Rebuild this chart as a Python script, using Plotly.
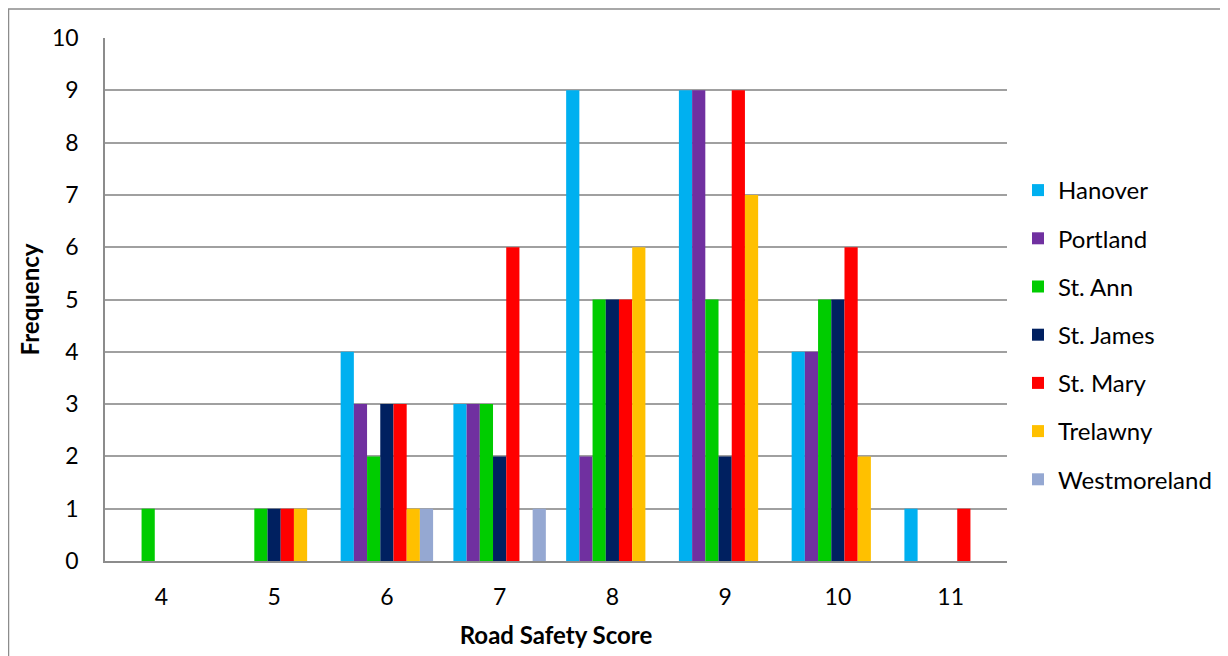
import plotly.graph_objects as go

categories = ["4", "5", "6", "7", "8", "9", "10", "11"]
hanover = [0, 0, 4, 3, 9, 9, 4, 1]
portland = [0, 0, 3, 3, 2, 9, 4, 0]
st_ann = [1, 1, 2, 3, 5, 5, 5, 0]
st_james = [0, 1, 3, 2, 5, 2, 5, 0]
st_mary = [0, 1, 3, 6, 5, 9, 6, 1]
trelawny = [0, 1, 1, 0, 6, 7, 2, 0]
westmoreland = [0, 0, 1, 1, 0, 0, 0, 0]

series = [
    ("Hanover", hanover, "#00B0F0"),
    ("Portland", portland, "#7030A0"),
    ("St. Ann", st_ann, "#00CC00"),
    ("St. James", st_james, "#002060"),
    ("St. Mary", st_mary, "#FF0000"),
    ("Trelawny", trelawny, "#FFC000"),
    ("Westmoreland", westmoreland, "#95A8D2"),
]

FONT = "Lato, Calibri, Carlito, sans-serif"

fig = go.Figure()
for name, vals, color in series:
    fig.add_trace(go.Bar(
        x=categories, y=vals, name=name, legendgroup=name,
        marker=dict(color=color, line=dict(width=0)),
    ))

# page is offset by the 8px body margin
OFF = 8
W, H = 1228 - OFF, 656 - OFF
L, R, T, B = 105 - OFF, 1007 - OFF, 38 - OFF, 561 - OFF
pw, ph = R - L, B - T

fig.update_layout(
    width=W, height=H,
    margin=dict(l=L, r=W - R, t=T, b=H - B, autoexpand=False),
    paper_bgcolor="white", plot_bgcolor="white",
    barmode="group", bargap=0.18, bargroupgap=0,
    font=dict(family=FONT, size=22, color="black"),
    legend=dict(
        x=(1010 - L) / pw, xanchor="left",
        y=1 - (327 - T) / ph, yanchor="middle",
        font=dict(size=24, family=FONT, color="black"),
        traceorder="grouped", tracegroupgap=14,
        itemwidth=30,
    ),
    xaxis=dict(
        type="category", showgrid=False, showline=True, linecolor="#8C8C8C", linewidth=1.5,
        ticks="", ticklabelstandoff=15,
        tickfont=dict(size=23, family=FONT),
        title=dict(text="<b>Road Safety Score</b>", font=dict(size=24, family=FONT), standoff=18),
    ),
    yaxis=dict(
        range=[0, 10], dtick=1, showgrid=True, gridcolor="#A0A0A0", gridwidth=1.5,
        showline=True, linecolor="#8C8C8C", linewidth=1.5, zeroline=False,
        ticks="", ticklabelstandoff=20,
        tickfont=dict(size=23, family=FONT),
        title=dict(text="<b>Frequency</b>", font=dict(size=24, family=FONT), standoff=6),
    ),
    shapes=[dict(
        type="rect", xref="paper", yref="paper",
        x0=(0.5 - L) / pw, x1=(W + 20 - L) / pw,
        y0=-(H + 20 - B) / ph, y1=1 + (T - 1) / ph,
        line=dict(color="#8C8C8C", width=1.5), fillcolor="rgba(0,0,0,0)", layer="below",
    )],
)

fig.write_html("out.html")
